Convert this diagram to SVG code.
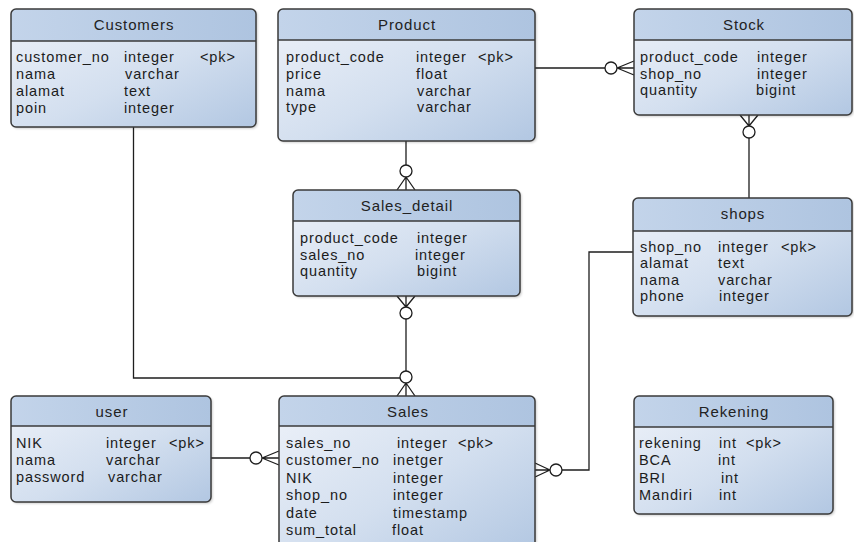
<svg xmlns="http://www.w3.org/2000/svg" width="854" height="542" viewBox="0 0 854 542">
  <defs>
    <linearGradient id="bodyFill" x1="0" y1="0" x2="1" y2="1">
      <stop offset="0" stop-color="#eef2f9"/>
      <stop offset="0.55" stop-color="#d3dfef"/>
      <stop offset="1" stop-color="#b2c7e2"/>
    </linearGradient>
    <linearGradient id="headFill" x1="0" y1="0" x2="1" y2="0">
      <stop offset="0" stop-color="#c3d4ea"/>
      <stop offset="1" stop-color="#aec4e0"/>
    </linearGradient>
    <filter id="shadow" x="-5%" y="-5%" width="115%" height="115%">
      <feDropShadow dx="1.5" dy="1.5" stdDeviation="1.3" flood-color="#000" flood-opacity="0.22"/>
    </filter>
  </defs>
  <style>
    .body { fill: url(#bodyFill); filter: url(#shadow); }
    .head { fill: url(#headFill); }
    .outline { fill: none; stroke: #3a3a3a; stroke-width: 1.5; }
    .sep { stroke: #3a3a3a; stroke-width: 1.4; }
    .title { font-family: "Liberation Sans", Arial, sans-serif; font-size: 15px; letter-spacing: 0.9px; fill: #222; text-anchor: middle; }
    .row { font-family: "Liberation Sans", Arial, sans-serif; font-size: 14.5px; letter-spacing: 0.9px; fill: #1c1c1c; }
    .wire { fill: none; stroke: #1e1e1e; stroke-width: 1.3; }
    .ring { fill: #ffffff; stroke: #1e1e1e; stroke-width: 1.3; }
  </style>

  <rect width="854" height="542" fill="#ffffff"/>

  <!-- relationships -->
  <g id="connectors">
    <!-- Customers to Sales -->
    <path class="wire" d="M133.5 127 V378 H400"/>
    <!-- Product to Sales_detail -->
    <path class="wire" d="M406 141 V165 M406 177 V190 M406 177 L397 190 M406 177 L415 190"/>
    <circle class="ring" cx="406" cy="171" r="6"/>
    <!-- Sales_detail to Sales -->
    <path class="wire" d="M406 296 V307 M397 296 L406 307 M415 296 L406 307 M406 319 V371 M406 383 V396 M406 383 L397 396 M406 383 L415 396"/>
    <circle class="ring" cx="406" cy="313" r="6"/>
    <circle class="ring" cx="406" cy="377" r="6"/>
    <!-- Product to Stock -->
    <path class="wire" d="M535 68 H605 M617 68 H634 M617 68 L634 61 M617 68 L634 75"/>
    <circle class="ring" cx="611" cy="68" r="6"/>
    <!-- Stock to shops -->
    <path class="wire" d="M749 115 V126 M740 115 L749 126 M758 115 L749 126 M749 138 V198"/>
    <circle class="ring" cx="749" cy="132" r="6"/>
    <!-- shops to Sales -->
    <path class="wire" d="M633 252 H589 V470 H562 M550 470 H535 M550 470 L535 463 M550 470 L535 477"/>
    <circle class="ring" cx="556" cy="470" r="6"/>
    <!-- user to Sales -->
    <path class="wire" d="M211 458 H250 M262 458 H279 M262 458 L279 451 M262 458 L279 465"/>
    <circle class="ring" cx="256" cy="458" r="6"/>
  </g>

  <g id="customers">
    <rect class="body" x="11" y="9" width="245" height="118" rx="5"/>
    <rect class="head" x="11" y="9" width="245" height="32" rx="5"/>
    <rect class="head" x="11" y="33" width="245" height="8"/>
    <line class="sep" x1="11" y1="41" x2="256" y2="41"/>
    <rect class="outline" x="11" y="9" width="245" height="118" rx="5"/>
    <text class="title" x="134" y="30">Customers</text>
    <text class="row" x="16" y="62">customer_no</text><text class="row" x="124" y="62">integer</text><text class="row" x="200" y="62">&lt;pk&gt;</text>
    <text class="row" x="16" y="79">nama</text><text class="row" x="125" y="79">varchar</text>
    <text class="row" x="16" y="96">alamat</text><text class="row" x="124" y="96">text</text>
    <text class="row" x="16" y="113">poin</text><text class="row" x="124" y="113">integer</text>
  </g>

  <g id="product">
    <rect class="body" x="278" y="9" width="257" height="132" rx="5"/>
    <rect class="head" x="278" y="9" width="257" height="31" rx="5"/>
    <rect class="head" x="278" y="32" width="257" height="8"/>
    <line class="sep" x1="278" y1="40" x2="535" y2="40"/>
    <rect class="outline" x="278" y="9" width="257" height="132" rx="5"/>
    <text class="title" x="407" y="30">Product</text>
    <text class="row" x="286" y="62">product_code</text><text class="row" x="416" y="62">integer</text><text class="row" x="478" y="62">&lt;pk&gt;</text>
    <text class="row" x="286" y="79">price</text><text class="row" x="416" y="79">float</text>
    <text class="row" x="286" y="95.5">nama</text><text class="row" x="417" y="95.5">varchar</text>
    <text class="row" x="286" y="112">type</text><text class="row" x="417" y="112">varchar</text>
  </g>

  <g id="stock">
    <rect class="body" x="634" y="9" width="218" height="106" rx="5"/>
    <rect class="head" x="634" y="9" width="218" height="31" rx="5"/>
    <rect class="head" x="634" y="32" width="218" height="8"/>
    <line class="sep" x1="634" y1="40" x2="852" y2="40"/>
    <rect class="outline" x="634" y="9" width="218" height="106" rx="5"/>
    <text class="title" x="744" y="30">Stock</text>
    <text class="row" x="640" y="62">product_code</text><text class="row" x="757" y="62">integer</text>
    <text class="row" x="640" y="78.5">shop_no</text><text class="row" x="757" y="78.5">integer</text>
    <text class="row" x="640" y="95">quantity</text><text class="row" x="756" y="95">bigint</text>
  </g>

  <g id="sales_detail">
    <rect class="body" x="293" y="190" width="227" height="106" rx="5"/>
    <rect class="head" x="293" y="190" width="227" height="31" rx="5"/>
    <rect class="head" x="293" y="213" width="227" height="8"/>
    <line class="sep" x1="293" y1="221" x2="520" y2="221"/>
    <rect class="outline" x="293" y="190" width="227" height="106" rx="5"/>
    <text class="title" x="407" y="211">Sales_detail</text>
    <text class="row" x="300" y="243">product_code</text><text class="row" x="417" y="243">integer</text>
    <text class="row" x="300" y="259.5">sales_no</text><text class="row" x="415" y="259.5">integer</text>
    <text class="row" x="300" y="276">quantity</text><text class="row" x="417" y="276">bigint</text>
  </g>

  <g id="shops">
    <rect class="body" x="633" y="198" width="219" height="118" rx="5"/>
    <rect class="head" x="633" y="198" width="219" height="33" rx="5"/>
    <rect class="head" x="633" y="223" width="219" height="8"/>
    <line class="sep" x1="633" y1="231" x2="852" y2="231"/>
    <rect class="outline" x="633" y="198" width="219" height="118" rx="5"/>
    <text class="title" x="743" y="219">shops</text>
    <text class="row" x="640" y="251.5">shop_no</text><text class="row" x="718" y="251.5">integer</text><text class="row" x="781" y="251.5">&lt;pk&gt;</text>
    <text class="row" x="640" y="268">alamat</text><text class="row" x="718" y="268">text</text>
    <text class="row" x="640" y="284.5">nama</text><text class="row" x="718" y="284.5">varchar</text>
    <text class="row" x="640" y="301">phone</text><text class="row" x="719" y="301">integer</text>
  </g>

  <g id="user">
    <rect class="body" x="11" y="396" width="200" height="106" rx="5"/>
    <rect class="head" x="11" y="396" width="200" height="30" rx="5"/>
    <rect class="head" x="11" y="418" width="200" height="8"/>
    <line class="sep" x1="11" y1="426" x2="211" y2="426"/>
    <rect class="outline" x="11" y="396" width="200" height="106" rx="5"/>
    <text class="title" x="112" y="416.5">user</text>
    <text class="row" x="16" y="448">NIK</text><text class="row" x="106" y="448">integer</text><text class="row" x="169" y="448">&lt;pk&gt;</text>
    <text class="row" x="16" y="465">nama</text><text class="row" x="106" y="465">varchar</text>
    <text class="row" x="16" y="482">password</text><text class="row" x="108" y="482">varchar</text>
  </g>

  <g id="sales">
    <rect class="body" x="279" y="396" width="256" height="156" rx="5"/>
    <rect class="head" x="279" y="396" width="256" height="30" rx="5"/>
    <rect class="head" x="279" y="418" width="256" height="8"/>
    <line class="sep" x1="279" y1="426" x2="535" y2="426"/>
    <rect class="outline" x="279" y="396" width="256" height="156" rx="5"/>
    <text class="title" x="408" y="416.5">Sales</text>
    <text class="row" x="286" y="448">sales_no</text><text class="row" x="397" y="448">integer</text><text class="row" x="458" y="448">&lt;pk&gt;</text>
    <text class="row" x="286" y="465">customer_no</text><text class="row" x="393" y="465">inetger</text>
    <text class="row" x="286" y="482.5">NIK</text><text class="row" x="393" y="482.5">integer</text>
    <text class="row" x="286" y="500">shop_no</text><text class="row" x="393" y="500">integer</text>
    <text class="row" x="286" y="517.5">date</text><text class="row" x="393" y="517.5">timestamp</text>
    <text class="row" x="286" y="535">sum_total</text><text class="row" x="392" y="535">float</text>
  </g>

  <g id="rekening">
    <rect class="body" x="634" y="396" width="199" height="118" rx="5"/>
    <rect class="head" x="634" y="396" width="199" height="31" rx="5"/>
    <rect class="head" x="634" y="419" width="199" height="8"/>
    <line class="sep" x1="634" y1="427" x2="833" y2="427"/>
    <rect class="outline" x="634" y="396" width="199" height="118" rx="5"/>
    <text class="title" x="734" y="416.5">Rekening</text>
    <text class="row" x="639" y="448">rekening</text><text class="row" x="719" y="448">int</text><text class="row" x="746" y="448">&lt;pk&gt;</text>
    <text class="row" x="639" y="465">BCA</text><text class="row" x="718" y="465">int</text>
    <text class="row" x="639" y="482.5">BRI</text><text class="row" x="721" y="482.5">int</text>
    <text class="row" x="639" y="500">Mandiri</text><text class="row" x="719" y="500">int</text>
  </g>
</svg>
